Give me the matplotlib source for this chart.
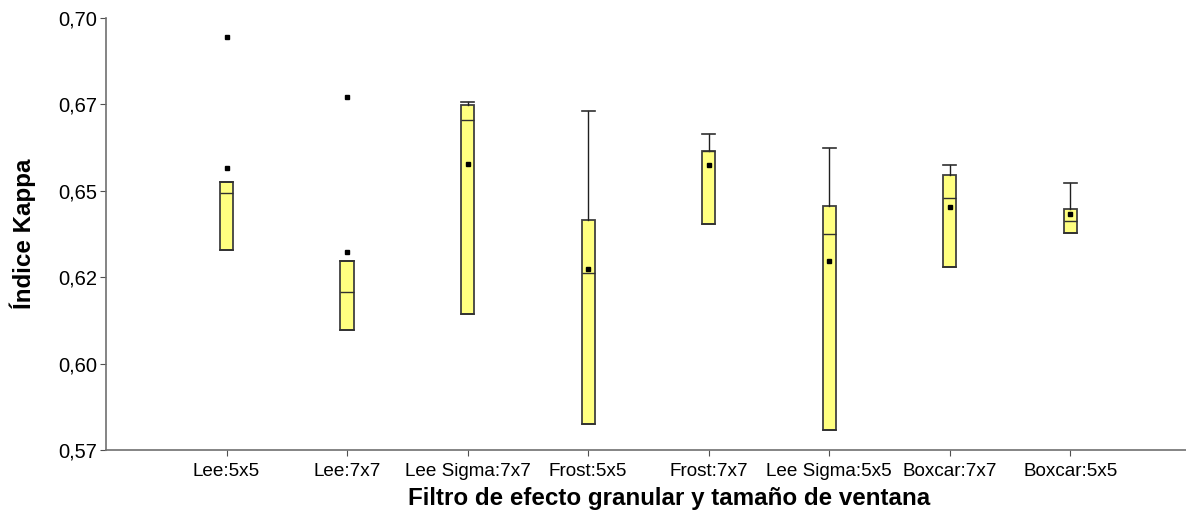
import matplotlib
matplotlib.use("Agg")
import matplotlib.pyplot as plt

plt.rcParams['font.family'] = ['Liberation Sans', 'DejaVu Sans']

# filtros y resumen de cada caja (indice kappa)
filtros = ['Lee:5x5', 'Lee:7x7', 'Lee Sigma:7x7', 'Frost:5x5',
           'Frost:7x7', 'Lee Sigma:5x5', 'Boxcar:7x7', 'Boxcar:5x5']
q1 = [0.6328, 0.6097, 0.6143, 0.5826, 0.6403, 0.5807, 0.6279, 0.6377]
mediana = [0.6493, 0.6206, 0.6705, 0.6263, 0.6616, 0.6376, 0.6478, 0.6412]
q3 = [0.6527, 0.6297, 0.6748, 0.6417, 0.6616, 0.6457, 0.6545, 0.6448]
bigote_inf = [0.6328, 0.6097, 0.6143, 0.5826, 0.6403, 0.5807, 0.6279, 0.6377]
bigote_sup = [0.6527, 0.6297, 0.6757, 0.6732, 0.6664, 0.6624, 0.6574, 0.6524]
media = [0.6566, 0.6322, 0.6579, 0.6273, 0.6576, 0.6296, 0.6453, 0.6433]
atipicos = [[0.6945], [0.6771], [], [], [], [], [], []]

yticks = [0.575, 0.600, 0.625, 0.650, 0.675, 0.700]
ytick_labels = ['0,57', '0,60', '0,62', '0,65', '0,67', '0,70']

stats = []
for i in range(len(filtros)):
    stats.append(dict(label=filtros[i], q1=q1[i], med=mediana[i], q3=q3[i],
                      whislo=bigote_inf[i], whishi=bigote_sup[i],
                      mean=media[i], fliers=atipicos[i]))

fig = plt.figure(figsize=(11.86, 5.13), dpi=100)
ax = fig.add_axes([0.0894, 0.1228, 0.9106, 0.842])

posiciones = list(range(1, len(filtros) + 1))
ax.bxp(stats, positions=posiciones, widths=0.11, patch_artist=True,
       showmeans=True, showcaps=True,
       boxprops=dict(facecolor='#ffff80', edgecolor='#404040', linewidth=1.3),
       medianprops=dict(color='#303030', linewidth=1.0),
       whiskerprops=dict(color='#202020', linewidth=1.0),
       capprops=dict(color='#303030', linewidth=1.2),
       meanprops=dict(marker='s', markerfacecolor='black', markeredgecolor='black', markersize=3.5),
       flierprops=dict(marker='s', markerfacecolor='black', markeredgecolor='black', markersize=3.5),
       capwidths=0.11)

ax.set_xlim(0, 8.96)
ax.set_ylim(0.575, 0.700)
ax.set_yticks(yticks)
ax.set_yticklabels(ytick_labels, fontsize=14.5)
ax.set_xticks(posiciones)
ax.set_xticklabels(filtros, fontsize=13.6)

for s in ['top', 'right']:
    ax.spines[s].set_visible(False)
for s in ['left', 'bottom']:
    ax.spines[s].set_color('#707070')
    ax.spines[s].set_linewidth(1.2)
ax.tick_params(axis='both', colors='#505050', length=4.3, labelcolor='black')
ax.tick_params(axis='y', pad=2)
ax.tick_params(axis='x', pad=5)

ax.set_ylabel('Índice Kappa', fontsize=17.4, fontweight='bold', labelpad=16)
ax.set_xlabel('Filtro de efecto granular y tamaño de ventana', fontsize=17.4,
              fontweight='bold', labelpad=6)
ax.xaxis.set_label_coords(0.521, -0.085)

fig.savefig('out.png', dpi=100)
